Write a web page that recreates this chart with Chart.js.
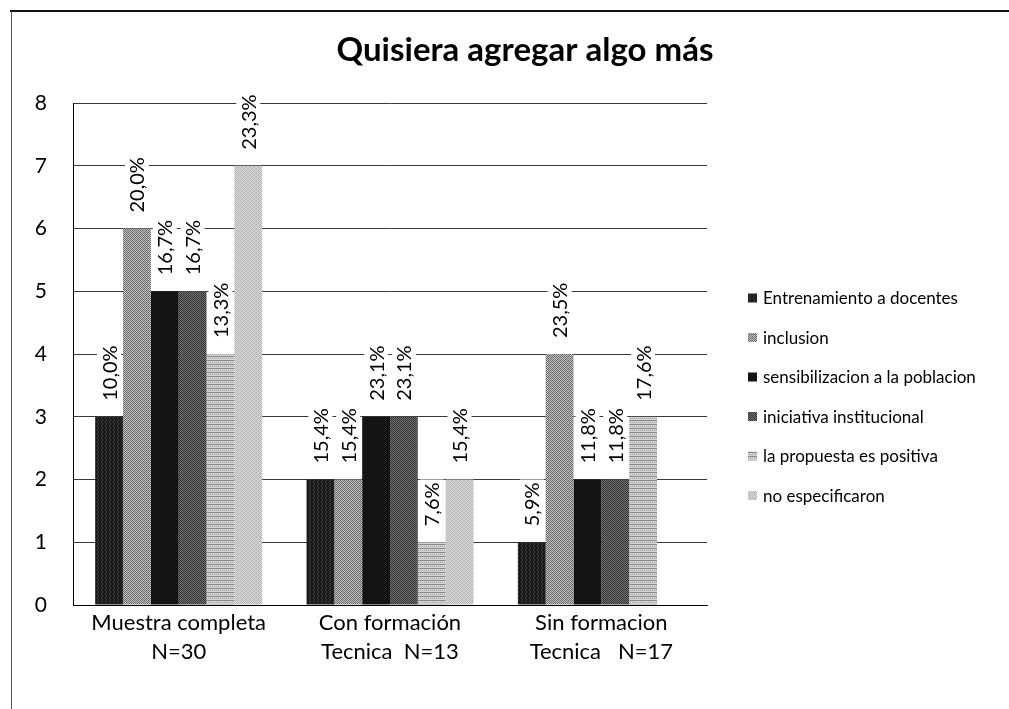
<!DOCTYPE html>
<html>
<head>
<meta charset="utf-8">
<script src="https://cdn.jsdelivr.net/npm/chart.js@4.4.1/dist/chart.umd.min.js"></script>
<style>
  body { margin: 0; background: #fff; }
  canvas { display: block; }
</style>
</head>
<body>
<canvas id="chart" width="1009" height="709"></canvas>
<script>
// Categories (multi-line axis labels)
const categories = [
    ['Muestra completa', 'N=30'],
    ['Con formación', 'Tecnica  N=13'],
    ['Sin formacion', 'Tecnica   N=17']
];

const seriesNames = [
    'Entrenamiento a docentes',
    'inclusion',
    'sensibilizacion a la poblacion',
    'iniciativa institucional',
    'la propuesta es positiva',
    'no especificaron'
];

// Counts per group
const entrenamiento = [3, 2, 1];
const inclusion = [6, 2, 4];
const sensibilizacion = [5, 3, 2];
const iniciativa = [5, 3, 2];
const propuesta = [4, 1, 3];
const noEspecificaron = [7, 2, 0];

// Percent labels printed on top of each bar
const pctEntrenamiento = ['10,0%', '15,4%', '5,9%'];
const pctInclusion = ['20,0%', '15,4%', '23,5%'];
const pctSensibilizacion = ['16,7%', '23,1%', '11,8%'];
const pctIniciativa = ['16,7%', '23,1%', '11,8%'];
const pctPropuesta = ['13,3%', '7,6%', '17,6%'];
const pctNoEspecificaron = ['23,3%', '15,4%', ''];

const yTicks = [0, 1, 2, 3, 4, 5, 6, 7, 8];

const FONT = 'Lato, "Liberation Sans", sans-serif';

// Small grayscale textures, like an old print-out
function makePattern(grid) {
    const size = grid.length;
    const c = document.createElement('canvas');
    c.width = size;
    c.height = size;
    const g = c.getContext('2d');
    grid.forEach((row, y) => {
        row.forEach((v, x) => {
            g.fillStyle = 'rgb(' + v + ',' + v + ',' + v + ')';
            g.fillRect(x, y, 1, 1);
        });
    });
    return g.createPattern(c, 'repeat');
}

const patterns = [
    makePattern([[24, 24, 60, 24], [24, 80, 24, 30], [50, 24, 24, 24], [24, 30, 70, 24]]),
    makePattern([[90, 200, 110, 190], [190, 120, 200, 100], [110, 190, 90, 200], [200, 100, 190, 120]]),
    makePattern([[10, 30, 12, 20], [25, 12, 40, 12], [12, 20, 10, 30], [40, 12, 25, 12]]),
    makePattern([[50, 120, 60, 110], [120, 40, 110, 50], [60, 110, 50, 120], [110, 50, 120, 40]]),
    makePattern([[130, 140, 130, 140], [200, 225, 200, 225], [170, 200, 170, 200], [225, 200, 225, 200]]),
    makePattern([[170, 225, 190, 215], [215, 180, 225, 175], [190, 215, 170, 225], [225, 175, 215, 185]])
];

const seriesData = [entrenamiento, inclusion, sensibilizacion, iniciativa, propuesta, noEspecificaron];
const seriesPct = [pctEntrenamiento, pctInclusion, pctSensibilizacion, pctIniciativa, pctPropuesta, pctNoEspecificaron];

// Title, frame, legend and rotated value labels
const decorations = {
    id: 'decorations',
    beforeDraw(chart) {
        const ctx = chart.ctx;
        ctx.save();
        ctx.fillStyle = '#fff';
        ctx.fillRect(0, 0, chart.width, chart.height);
        ctx.strokeStyle = '#111';
        ctx.lineWidth = 2;
        ctx.beginPath();
        ctx.moveTo(10, 11);
        ctx.lineTo(chart.width, 11);
        ctx.stroke();
        ctx.strokeStyle = '#555';
        ctx.lineWidth = 1;
        ctx.beginPath();
        ctx.moveTo(11.5, 11);
        ctx.lineTo(11.5, chart.height);
        ctx.stroke();
        ctx.restore();
    },
    afterDatasetsDraw(chart) {
        const ctx = chart.ctx;
        ctx.save();
        ctx.font = '20px ' + FONT;
        ctx.textBaseline = 'middle';
        ctx.textAlign = 'left';
        chart.data.datasets.forEach((ds, i) => {
            const meta = chart.getDatasetMeta(i);
            meta.data.forEach((bar, j) => {
                const text = seriesPct[i][j];
                if (!ds.data[j] || !text) return;
                const w = ctx.measureText(text).width;
                ctx.save();
                ctx.translate(bar.x, bar.y - 16);
                ctx.rotate(-Math.PI / 2);
                ctx.fillStyle = '#fff';
                ctx.fillRect(-3, -12, w + 6, 24);
                ctx.fillStyle = '#000';
                ctx.fillText(text, 0, 1);
                ctx.restore();
            });
        });
        ctx.restore();
    },
    afterDraw(chart) {
        const ctx = chart.ctx;
        ctx.save();
        // title
        ctx.font = 'bold 33px ' + FONT;
        ctx.fillStyle = '#000';
        ctx.textAlign = 'center';
        ctx.textBaseline = 'middle';
        ctx.fillText('Quisiera agregar algo más', 525, 50);
        // legend
        ctx.font = '17px ' + FONT;
        ctx.textAlign = 'left';
        chart.data.datasets.forEach((ds, i) => {
            const y = 298 + i * 39.5;
            ctx.fillStyle = ds.backgroundColor;
            ctx.fillRect(748, y - 4.5, 9, 9);
            ctx.fillStyle = '#000';
            ctx.fillText(ds.label, 763, y + 1);
        });
        ctx.restore();
    }
};

new Chart(document.getElementById('chart'), {
    type: 'bar',
    data: {
        labels: categories,
        datasets: seriesNames.map((name, i) => ({
            label: name,
            data: seriesData[i],
            backgroundColor: patterns[i],
            borderWidth: 0,
            categoryPercentage: 0.79,
            barPercentage: 1.0
        }))
    },
    options: {
        responsive: false,
        animation: false,
        devicePixelRatio: 1,
        layout: {
            padding: { left: 20, top: 103, right: 302, bottom: 44 }
        },
        plugins: {
            legend: { display: false },
            title: { display: false },
            tooltip: { enabled: false }
        },
        scales: {
            x: {
                grid: { display: false },
                border: { display: true, color: '#000', width: 1 },
                ticks: {
                    color: '#000',
                    font: { family: FONT, size: 22, lineHeight: 1.3 },
                    padding: -4,
                    maxRotation: 0
                },
                afterFit(scale) { scale.height = 60; }
            },
            y: {
                min: 0,
                max: 8,
                afterBuildTicks(scale) {
                    scale.ticks = yTicks.map(v => ({ value: v }));
                },
                grid: { color: '#3a3a3a', lineWidth: 1, drawTicks: false },
                border: { display: true, color: '#000', width: 1 },
                ticks: {
                    color: '#000',
                    font: { family: FONT, size: 21 },
                    padding: 26
                },
                afterFit(scale) { scale.width = 53; }
            }
        }
    },
    plugins: [decorations]
});
</script>
</body>
</html>
